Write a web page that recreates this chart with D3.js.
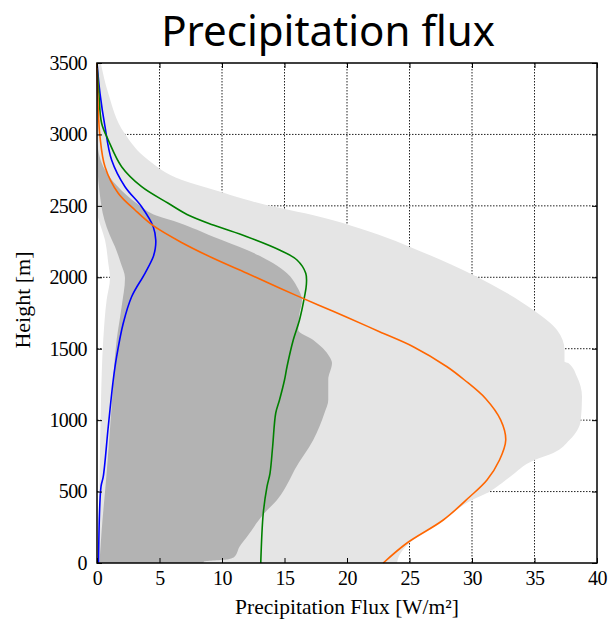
<!DOCTYPE html>
<html>
<head>
<meta charset="utf-8">
<script src="https://cdn.jsdelivr.net/npm/d3@7"></script>
<style>
  body { margin: 0; background: #fff; }
  svg { display: block; }
</style>
</head>
<body>
<svg id="chart" width="609" height="622"></svg>
<script>
// [height m, flux W/m2] pairs
const lightRight = [[0, 24.0], [56, 24.2], [140, 25.0], [300, 27.7], [441, 30.0], [490, 31.2], [600, 33.0], [721, 35.0], [770, 36.5], [861, 37.8], [1000, 38.7], [1164, 38.8], [1304, 38.4], [1400, 37.7], [1409, 37.4], [1491, 37.4], [1631, 36.8], [1771, 34.9], [2016, 30.1], [2214, 25.0], [2296, 22.6], [2424, 17.8], [2518, 13.0], [2611, 9.4], [2681, 6.8], [2821, 4.1], [3008, 2.2], [3288, 0.9], [3500, 0.3]]
const lightLeft = [[3500, 0], [2450, 0], [2400, 0.15], [2261, 0.64], [2100, 0.9], [1995, 1.04], [1841, 0.77], [1561, 0.5], [1141, 0.32], [581, 0.2], [0, 0.08]]
const darkRight = [[0, 8.5], [12, 8.6], [25, 10.4], [44, 11.0], [114, 11.4], [184, 12.0], [350, 13.4], [441, 14.4], [581, 15.4], [651, 15.8], [861, 17.3], [1050, 18.2], [1141, 18.5], [1281, 18.5], [1400, 18.8], [1444, 18.6], [1561, 17.3], [1631, 16.1], [1748, 16.2], [1841, 16.4], [1934, 16.0], [2028, 15.2], [2098, 14.1], [2191, 12.0], [2284, 9.3], [2380, 6.6], [2430, 4.8], [2510, 3.3], [2640, 1.6], [2751, 0.65], [2940, 0]]
const darkLeft = [[2940, 0], [2891, 0], [2600, 0.2], [2400, 0.6], [2300, 1.0], [2214, 1.44], [2100, 1.9], [1995, 2.24], [1794, 1.97], [1561, 1.57], [1094, 1.17], [630, 0.77], [200, 0.35], [0, 0.2]]
const blueLine = [[0, 0.12], [534, 0.32], [604, 0.5], [954, 0.9], [1281, 1.3], [1444, 1.57], [1678, 2.1], [1864, 2.77], [2028, 3.84], [2144, 4.5], [2200, 4.66], [2261, 4.7], [2354, 4.5], [2494, 3.57], [2634, 2.24], [2821, 1.17], [3054, 0.64], [3288, 0.24], [3500, 0]]
const greenLine = [[0, 13.1], [348, 13.3], [534, 13.6], [628, 13.84], [814, 14.05], [1050, 14.3], [1141, 14.6], [1281, 15.0], [1374, 15.2], [1561, 15.7], [1701, 16.2], [1864, 16.6], [1950, 16.75], [2028, 16.7], [2121, 16.0], [2191, 14.6], [2284, 12.0], [2366, 9.3], [2440, 7.2], [2518, 5.7], [2634, 3.57], [2774, 1.97], [2961, 0.9], [3078, 0.37], [3288, 0.15], [3500, 0]]
const orangeLine = [[0, 22.9], [140, 24.8], [301, 27.7], [462, 29.8], [581, 31.2], [721, 32.2], [861, 32.7], [1000, 32.3], [1150, 31.1], [1281, 29.4], [1374, 28.0], [1514, 25.3], [1619, 22.6], [1724, 19.9], [1806, 17.7], [1923, 14.64], [2028, 12.0], [2133, 9.3], [2242, 6.8], [2361, 4.5], [2471, 3.04], [2588, 1.7], [2774, 0.64], [2984, 0.24], [3171, 0.1], [3500, 0]]

const xTicks = [0, 5, 10, 15, 20, 25, 30, 35, 40]
const yTicks = [0, 500, 1000, 1500, 2000, 2500, 3000, 3500]

const svg = d3.select('#chart')
const plotLeft = 97
const plotRight = 597
const plotTop = 63
const plotBottom = 563

const x = d3.scaleLinear().domain([0, 40]).range([plotLeft, plotRight])
const y = d3.scaleLinear().domain([0, 3500]).range([plotBottom, plotTop])

const serif = '"Liberation Serif", "Times New Roman", serif'

// grid, under the fills
const grid = svg.append('g')
  .attr('stroke', '#222')
  .attr('stroke-width', 1)
  .attr('stroke-dasharray', '1.5,1.5')
grid.selectAll('line.gx')
  .data(xTicks.slice(1, -1))
  .join('line')
  .attr('class', 'gx')
  .attr('x1', d => x(d)).attr('x2', d => x(d))
  .attr('y1', plotTop).attr('y2', plotBottom)
grid.selectAll('line.gy')
  .data(yTicks.slice(1, -1))
  .join('line')
  .attr('class', 'gy')
  .attr('x1', plotLeft).attr('x2', plotRight)
  .attr('y1', d => y(d)).attr('y2', d => y(d))

// edge path along height
const edge = d3.line()
  .x(d => x(d[1]))
  .y(d => y(d[0]))
  .curve(d3.curveMonotoneY)

const smooth = d3.line()
  .x(d => x(d[1]))
  .y(d => y(d[0]))
  .curve(d3.curveCatmullRom.alpha(0.5))

function band (rightEdge, leftEdge) {
  return edge(rightEdge) + edge(leftEdge).replace(/^M/, 'L') + 'Z'
}

svg.append('path')
  .attr('d', band(lightRight, lightLeft))
  .attr('fill', '#e5e5e5')
svg.append('path')
  .attr('d', band(darkRight, darkLeft))
  .attr('fill', '#b3b3b3')

const lines = [
  { data: blueLine, color: '#0000ff' },
  { data: greenLine, color: '#008000' },
  { data: orangeLine, color: '#ff6600' }
]
svg.selectAll('path.series')
  .data(lines)
  .join('path')
  .attr('class', 'series')
  .attr('d', d => smooth(d.data))
  .attr('fill', 'none')
  .attr('stroke', d => d.color)
  .attr('stroke-width', 1.6)

// axes with inward ticks
function styleAxis (g) {
  g.attr('font-family', serif).attr('font-size', 20)
  g.select('.domain').remove()
  g.selectAll('.tick line').attr('stroke', '#000').attr('stroke-width', 1)
  g.selectAll('.tick text')
    .attr('fill', '#000')
    .style('font-family', serif)
    .style('font-size', '20px')
    .style('letter-spacing', '-0.6px')
}

const fmt = d3.format('d')

svg.append('g')
  .attr('transform', `translate(0,${plotBottom})`)
  .call(d3.axisBottom(x).tickValues(xTicks).tickFormat(fmt).tickSize(-5).tickPadding(8))
  .call(styleAxis)
svg.append('g')
  .attr('transform', `translate(${plotLeft},0)`)
  .call(d3.axisLeft(y).tickValues(yTicks).tickFormat(fmt).tickSize(-5).tickPadding(10))
  .call(styleAxis)
svg.append('g')
  .attr('transform', `translate(0,${plotTop})`)
  .call(d3.axisTop(x).tickValues(xTicks).tickSize(-5).tickFormat(''))
  .call(styleAxis)
svg.append('g')
  .attr('transform', `translate(${plotRight},0)`)
  .call(d3.axisRight(y).tickValues(yTicks).tickSize(-5).tickFormat(''))
  .call(styleAxis)

svg.append('rect')
  .attr('x', plotLeft).attr('y', plotTop)
  .attr('width', plotRight - plotLeft).attr('height', plotBottom - plotTop)
  .attr('fill', 'none')
  .attr('stroke', '#000')
  .attr('stroke-width', 1.5)

svg.append('text')
  .attr('x', 328).attr('y', 45.5)
  .attr('text-anchor', 'middle')
  .style('font-family', '"Noto Sans", sans-serif')
  .style('font-size', '42px')
  .text('Precipitation flux')

svg.append('text')
  .attr('x', 347).attr('y', 614)
  .attr('text-anchor', 'middle')
  .style('font-family', serif)
  .style('font-size', '21.5px')
  .text('Precipitation Flux [W/m²]')

svg.append('text')
  .attr('transform', 'translate(30,300) rotate(-90)')
  .attr('text-anchor', 'middle')
  .style('font-family', serif)
  .style('font-size', '22px')
  .text('Height [m]')
</script>
</body>
</html>
